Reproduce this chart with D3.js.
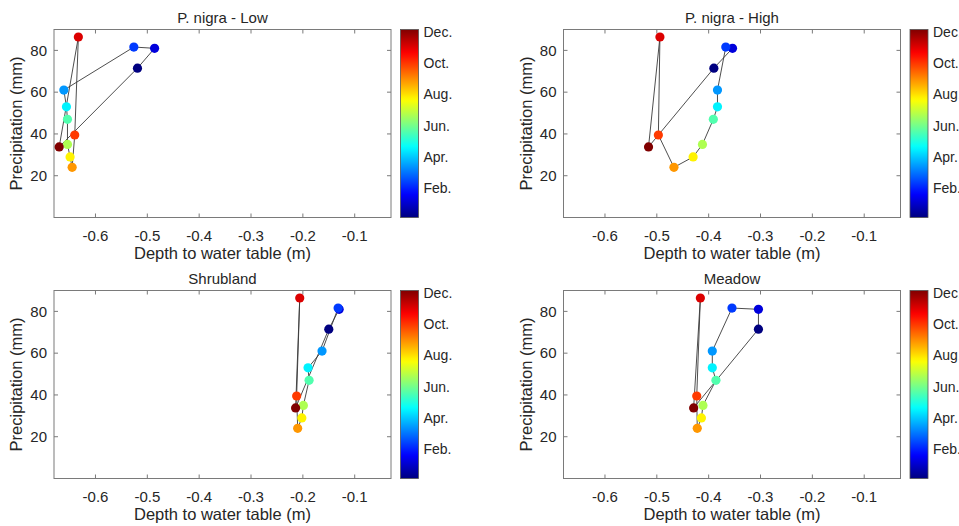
<!DOCTYPE html>
<html><head><meta charset="utf-8">
<script src="https://cdn.jsdelivr.net/npm/d3@7"></script>
<style>
html,body{margin:0;padding:0;background:#fff;}
svg{display:block;font-family:"Liberation Sans",Arial,sans-serif;}
</style></head>
<body>
<svg id="chart" width="959" height="526"></svg>
<script>
// ---- data ----
const months = ["Jan","Feb","Mar","Apr","May","Jun","Jul","Aug","Sep","Oct","Nov","Dec"];
const monthNum = [1,2,3,4,5,6,7,8,9,10,11,12];
const precipitation = [71.5, 81, 81.6, 61, 53, 47, 35, 29, 24, 39.5, 86.4, 33.8];
const panelTitles = ["P. nigra - Low","P. nigra - High","Shrubland","Meadow"];
const depthLow   = [-0.519,-0.486,-0.526,-0.661,-0.656,-0.654,-0.654,-0.649,-0.645,-0.640,-0.633,-0.670];
const depthHigh  = [-0.390,-0.354,-0.367,-0.383,-0.383,-0.391,-0.412,-0.430,-0.467,-0.497,-0.494,-0.516];
const depthShrub = [-0.150,-0.130,-0.132,-0.163,-0.190,-0.188,-0.199,-0.202,-0.210,-0.212,-0.206,-0.214];
const depthMeadow= [-0.304,-0.304,-0.355,-0.393,-0.393,-0.386,-0.411,-0.414,-0.422,-0.423,-0.416,-0.429];
const xTicks = [-0.6,-0.5,-0.4,-0.3,-0.2,-0.1];
const yTicks = [20,40,60,80];
const cbTickValues = [2,4,6,8,10,12];
const cbTickLabels = ["Feb.","Apr.","Jun.","Aug.","Oct.","Dec."];

const depths = [depthLow, depthHigh, depthShrub, depthMeadow];

// ---- helpers ----
function jet(t){
  const c = v => Math.max(0, Math.min(1, v));
  const r = c(1.5 - Math.abs(4*t - 3));
  const g = c(1.5 - Math.abs(4*t - 2));
  const b = c(1.5 - Math.abs(4*t - 1));
  return d3.rgb(r*255, g*255, b*255).formatHex();
}
const colorScale = d3.scaleLinear().domain([1,12]).range([0,1]);

const svg = d3.select("#chart");
const W = 337, H = 188;
const panels = [
  {left:54, top:29.5},
  {left:563.5, top:29.5},
  {left:54, top:290.5},
  {left:563.5, top:290.5}
];
const textColor = "#262626";
const axisColor = "#7a7a7a";

// gradient for colorbar
const defs = svg.append("defs");
const grad = defs.append("linearGradient").attr("id","jetgrad")
  .attr("x1",0).attr("y1",1).attr("x2",0).attr("y2",0);
d3.range(0, 1.0001, 0.02).forEach(t => {
  grad.append("stop").attr("offset", t).attr("stop-color", jet(t));
});

panels.forEach((p, i) => {
  const x = d3.scaleLinear().domain([-0.68, -0.03]).range([p.left, p.left + W]);
  const y = d3.scaleLinear().domain([0, 90]).range([p.top + H, p.top]);
  const g = svg.append("g");

  // box
  g.append("rect").attr("x", p.left).attr("y", p.top).attr("width", W).attr("height", H)
    .attr("fill", "#fff").attr("stroke", axisColor).attr("stroke-width", 1);

  // ticks (inward, all four sides)
  const tl = 4;
  xTicks.forEach(v => {
    g.append("line").attr("x1", x(v)).attr("x2", x(v)).attr("y1", p.top + H).attr("y2", p.top + H - tl)
      .attr("stroke", axisColor);
    g.append("line").attr("x1", x(v)).attr("x2", x(v)).attr("y1", p.top).attr("y2", p.top + tl)
      .attr("stroke", axisColor);
  });
  yTicks.forEach(v => {
    g.append("line").attr("x1", p.left).attr("x2", p.left + tl).attr("y1", y(v)).attr("y2", y(v))
      .attr("stroke", axisColor);
    g.append("line").attr("x1", p.left + W).attr("x2", p.left + W - tl).attr("y1", y(v)).attr("y2", y(v))
      .attr("stroke", axisColor);
  });

  // tick labels
  g.selectAll(".xt").data(xTicks).enter().append("text")
    .attr("x", d => x(d)).attr("y", p.top + H + 23)
    .attr("text-anchor", "middle").attr("font-size", 15).attr("fill", textColor)
    .text(d => d3.format(".1f")(d).replace("−","-"));
  g.selectAll(".yt").data(yTicks).enter().append("text")
    .attr("x", p.left - 7).attr("y", d => y(d) + 5.3)
    .attr("text-anchor", "end").attr("font-size", 15).attr("fill", textColor)
    .text(d => d);

  // axis labels
  g.append("text").attr("x", p.left + W/2).attr("y", p.top + H + 41)
    .attr("text-anchor", "middle").attr("font-size", 16.5).attr("fill", textColor)
    .text("Depth to water table (m)");
  g.append("text")
    .attr("transform", `translate(${p.left - 32},${p.top + H/2}) rotate(-90)`)
    .attr("text-anchor", "middle").attr("font-size", 16.5).attr("fill", textColor)
    .text("Precipitation (mm)");

  // title
  g.append("text").attr("x", p.left + W/2).attr("y", p.top - 7)
    .attr("text-anchor", "middle").attr("font-size", 15).attr("fill", textColor)
    .text(panelTitles[i]);

  // data
  const pts = monthNum.map((m, k) => ({m, dx: depths[i][k], pr: precipitation[k]}));
  const line = d3.line().x(d => x(d.dx)).y(d => y(d.pr)).curve(d3.curveLinearClosed);
  g.append("path").attr("d", line(pts)).attr("fill", "none")
    .attr("stroke", "#3a3a3a").attr("stroke-width", 0.9);
  g.selectAll(".pt").data(pts).enter().append("circle")
    .attr("cx", d => x(d.dx)).attr("cy", d => y(d.pr)).attr("r", 4.6)
    .attr("fill", d => jet(colorScale(d.m)));

  // colorbar
  const cbx = p.left + W + 9.5, cbw = 18;
  const cy = d3.scaleLinear().domain([0.15, 12.13]).range([p.top + H, p.top]);
  g.append("rect").attr("x", cbx).attr("y", p.top).attr("width", cbw).attr("height", H)
    .attr("fill", "url(#jetgrad)").attr("stroke", "#555").attr("stroke-width", 0.8);
  g.selectAll(".cbt").data(cbTickValues).enter().append("text")
    .attr("x", cbx + cbw + 5).attr("y", d => cy(d) + 5)
    .attr("font-size", 14).attr("fill", textColor)
    .text((d, k) => cbTickLabels[k]);
});
</script>
</body></html>
